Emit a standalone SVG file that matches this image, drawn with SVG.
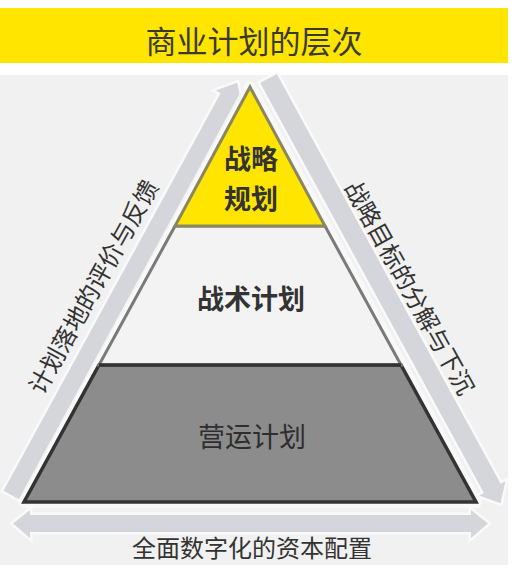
<svg xmlns="http://www.w3.org/2000/svg" width="517" height="569" viewBox="0 0 517 569">
<style>
text{font-family:"Noto Sans CJK SC","Noto Sans",sans-serif;fill:#333;text-anchor:middle;dominant-baseline:central}
.band{fill:#d5d5dc;stroke:#fafafa;stroke-width:5;paint-order:stroke;stroke-linejoin:miter}
.lbl{font-size:27px;font-weight:bold}
.side{font-size:24px}
</style>
<rect x="0" y="0" width="517" height="569" fill="#ffffff"/>
<g id="banner">
<rect x="0" y="8" width="508" height="55" fill="#FFE500"/>
<text x="254" y="39" style="font-size:31px;fill:#3a3a2c">商业计划的层次</text>
</g>
<rect id="panel" x="0" y="75" width="508" height="490" fill="#f1f1f1"/>
<g id="connectors">
<g transform="translate(124,290) rotate(-61.37)">
<polygon class="band" points="-234,-9.5 219,-9.5 219,-15 236,0 219,15 219,9.5 -234,9.5"/>
</g>
<g transform="translate(384,290) rotate(61.37)">
<polygon class="band" points="-241,-9.5 226,-9.5 226,-15 243,0 226,15 226,9.5 -241,9.5"/>
</g>
<polygon class="band" points="13,523.5 30,510 30,515 471,515 471,510 488,523.5 471,538 471,532 30,532 30,538"/>
<text class="side" transform="translate(92,286) rotate(-61)">计划落地的评价与反馈</text>
<text class="side" transform="translate(411,287) rotate(61)">战略目标的分解与下沉</text>
<text class="side" x="252" y="546">全面数字化的资本配置</text>
</g>
<polygon points="250,87 476,502 24,502" fill="none" stroke="#fafafa" stroke-width="12" stroke-linejoin="round" opacity="0.8"/>
<g id="layer-ops">
<polygon points="99,365 401,365 476,502 24,502" fill="#8c8c8c" stroke="#333333" stroke-width="3.5" stroke-linejoin="miter"/>
<text x="252" y="435" style="font-size:27px;fill:#2e2e2e">营运计划</text>
</g>
<g id="layer-tactic">
<polygon points="175,226 325,226 401,365 99,365" fill="#f3f3f3" stroke="#7a7a7a" stroke-width="3"/>
<line x1="99" y1="365" x2="401" y2="365" stroke="#333333" stroke-width="3.5"/>
<text class="lbl" x="251" y="297">战术计划</text>
</g>
<g id="layer-strategy">
<polygon points="250,87 325,226 175,226" fill="#FFE500" stroke="#8a8760" stroke-width="3" stroke-linejoin="miter"/>
<text class="lbl" x="251" y="157">战略</text>
<text class="lbl" x="251" y="197">规划</text>
</g>
</svg>
